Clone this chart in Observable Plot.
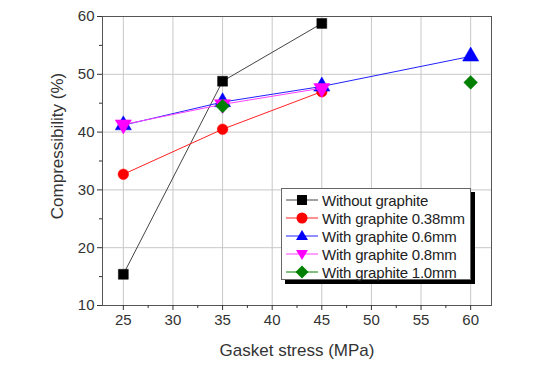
<!DOCTYPE html>
<html><head><meta charset="utf-8">
<script src="https://cdn.jsdelivr.net/npm/d3@7"></script>
<script src="https://cdn.jsdelivr.net/npm/@observablehq/plot@0.6"></script>
<style>
body{margin:0;background:#fff;font-family:"Liberation Sans",Arial,sans-serif;}
#wrap{position:relative;width:533px;height:370px;}
#legend{position:absolute;left:281px;top:188px;width:188px;height:90px;background:#fff;border:1px solid #666;box-shadow:4px 4px 0 #000;font-size:15px;color:#222;}
.row{position:absolute;left:0;height:18px;display:flex;align-items:center;}
.row svg{display:block;margin-left:4px;}
.row span{margin-left:4px;letter-spacing:-0.2px;white-space:nowrap;}
</style></head>
<body><div id="wrap"><div id="chart"></div><div id="legend"></div></div>
<script>
const stress = [25, 35, 45, 60];
const seriesNames = ["Without graphite","With graphite 0.38mm","With graphite 0.6mm","With graphite 0.8mm","With graphite 1.0mm"];
const withoutGraphite = [15.4, 48.8, 58.8, null];
const graphite038 = [32.7, 40.5, 47.0, null];
const graphite06 = [41.2, 45.2, 47.9, 53.1];
const graphite08 = [41.3, 44.8, 47.6, null];
const graphite10 = [null, 44.5, null, 48.6];
const xTicks = [25, 30, 35, 40, 45, 50, 55, 60];
const xMinor = [27.5, 32.5, 37.5, 42.5, 47.5, 52.5, 57.5];
const yTicks = [10, 20, 30, 40, 50, 60];
const yMinor = [15, 25, 35, 45, 55];
const xTitle = "Gasket stress (MPa)";
const yTitle = "Compressibility (%)";

const colors = ["#000000","#ff0000","#0000ff","#ff00ff","#008000"];
const lineColors = ["#444444","#ff2020","#2020ff","#ff40ff","#008000"];
const symbols = ["square","circle","triangle","triangle","diamond2"];
const rotates = [0,0,0,180,0];
const radii = [5.6,5.3,6,6,6.2];
const allValues = [withoutGraphite, graphite038, graphite06, graphite08, graphite10];

const marks = [
  Plot.gridX(xTicks, {stroke:"#c8c8c8", strokeOpacity:1}),
  Plot.gridY(yTicks, {stroke:"#c8c8c8", strokeOpacity:1}),
];
allValues.forEach((vals, i) => {
  const data = stress.map((x, j) => ({x, y: vals[j]}));
  marks.push(Plot.line(data, {x:"x", y:"y", stroke:lineColors[i], strokeWidth:1}));
  marks.push(Plot.dot(data.filter(d => d.y != null), {x:"x", y:"y", fill:colors[i], stroke:colors[i], strokeWidth:0.5, symbol:symbols[i], r:radii[i], rotate:rotates[i]}));
});
marks.push(
  Plot.frame({stroke:"#555"}),
  Plot.axisX(xTicks, {tickSize:5, tickPadding:4, fontSize:15, color:"#333", label:xTitle, labelAnchor:"center", labelArrow:"none", labelOffset:50}),
  Plot.axisX(xMinor, {tickSize:3, text:null, label:null, color:"#333"}),
  Plot.axisY(yTicks, {tickSize:5, tickPadding:3, fontSize:15, color:"#333", label:yTitle, labelAnchor:"center", labelArrow:"none", labelOffset:46}),
  Plot.axisY(yMinor, {tickSize:3, text:null, label:null, color:"#333"})
);

const chart = Plot.plot({
  width:533, height:370,
  marginLeft:102, marginRight:42, marginTop:16, marginBottom:65,
  x:{domain:[22.9, 62.1]},
  y:{domain:[10, 60]},
  style:{fontFamily:"'Liberation Sans', Arial, sans-serif", fontSize:"15px", color:"#333", background:"#fff", overflow:"visible"},
  marks
});
chart.querySelectorAll("g[aria-label='x-axis label'] text, g[aria-label='y-axis label'] text").forEach(t => t.setAttribute("font-size","17"));
chart.querySelectorAll("g[aria-label='y-axis label']").forEach(g => {
  const tr = g.getAttribute("transform") || "";
  g.setAttribute("transform", "translate(-6,-15) " + tr);
});
document.getElementById("chart").appendChild(chart);

// legend
const leg = document.getElementById("legend");
const shapePaths = {
  square: '<rect x="11" y="4" width="10" height="10"/>',
  circle: '<circle cx="16" cy="9" r="5.5"/>',
  triangle: '<path d="M16,3 L22,13 L10,13 Z"/>',
  triangleDown: '<path d="M16,15 L22,5 L10,5 Z"/>',
  diamond: '<path d="M16,2.5 L22.5,9 L16,15.5 L9.5,9 Z"/>'
};
const legShapes = ["square","circle","triangle","triangleDown","diamond"];
seriesNames.forEach((name, i) => {
  const row = document.createElement("div");
  row.className = "row";
  row.style.top = (2 + i*18) + "px";
  row.innerHTML = `<svg width="32" height="18"><line x1="0" y1="9" x2="32" y2="9" stroke="${lineColors[i]}" stroke-width="1"/><g fill="${colors[i]}">${shapePaths[legShapes[i]]}</g></svg><span>${name}</span>`;
  leg.appendChild(row);
});
</script></body></html>
